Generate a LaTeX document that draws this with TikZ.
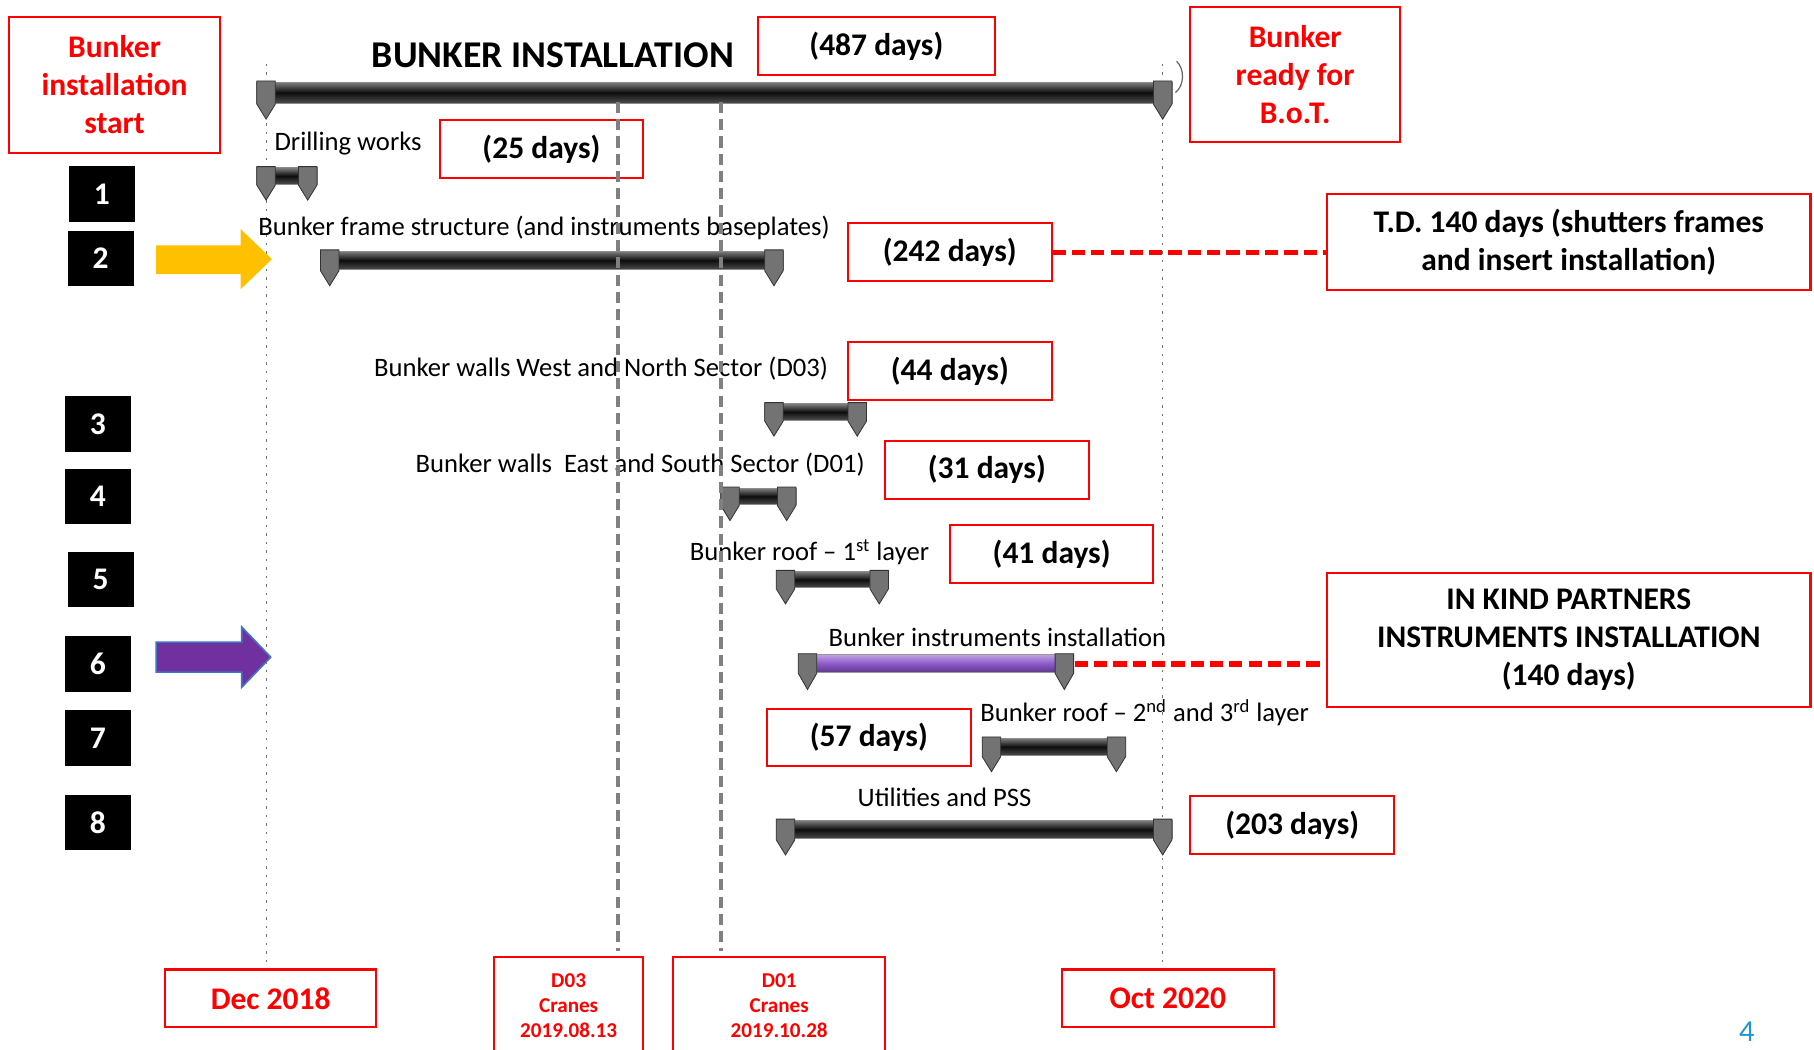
\documentclass[tikz,border=0pt]{standalone}
\usepackage{fontspec}
\setmainfont{Carlito}

\definecolor{barpurple}{RGB}{112,48,160}
\definecolor{pagenum}{RGB}{30,150,210}

\begin{document}
\begin{tikzpicture}[x=0.02cm, y=-0.02cm,
  redbox/.style={draw=red, line width=1pt, align=center, inner sep=0pt},
  daybox/.style={redbox, minimum width=3.52cm, minimum height=1cm,
    font=\fontsize{15.5}{18.7}\selectfont\bfseries},
  notebox/.style={redbox, font=\fontsize{15.5}{18.7}\selectfont\bfseries},
  cranebox/.style={redbox, text=red, minimum height=1.7cm,
    font=\fontsize{10.4}{12.3}\selectfont\bfseries},
  numbox/.style={fill=black, text=white, minimum width=1.14cm, minimum height=0.96cm,
    inner sep=0pt, font=\fontsize{15.5}{18}\selectfont\bfseries},
  task/.style={anchor=west, inner sep=0pt, font=\fontsize{13.1}{15}\selectfont},
  reddash/.style={red, line width=2.6pt, dash pattern=on 6.5pt off 3pt},
  cranedash/.style={black!50, line width=2.2pt, dash pattern=on 5.5pt off 3pt},
  guide/.style={black!55, line width=0.5pt, dash pattern=on 1.2pt off 3pt},
  tick/.style={fill=black!55, draw=black!80, line width=0.4pt}]
\useasboundingbox (0,0) rectangle (1568,907);
\clip (0,0) rectangle (1568,907);

% thin guides at start and end
\draw[guide] (230,55) -- (230,835);
\draw[guide] (1005,55) -- (1005,835);

% title and notes
\node[font=\fontsize{18.6}{22}\selectfont\bfseries] (title) at (478,48) {BUNKER INSTALLATION};
\node[notebox, text=red, minimum width=3.64cm, minimum height=2.34cm] (start) at (99,73.5)
  {Bunker\\installation\\start};
\node[notebox, text=red, minimum width=3.62cm, minimum height=2.34cm] (ready) at (1119.5,64.5)
  {Bunker\\ready for\\B.o.T.};
\node[daybox, minimum width=4.1cm] (d487) at (757.5,40) {(487 days)};
\node[daybox] (d25) at (468,129) {(25 days)};
\node[daybox] (d242) at (821,218) {(242 days)};
\node[notebox, minimum width=8.36cm, minimum height=1.66cm] (td) at (1356,209.5)
  {T.D. 140 days (shutters frames\\and insert installation)};
\node[daybox] (d44) at (821,321) {(44 days)};
\node[daybox] (d31) at (853,406) {(31 days)};
\node[daybox] (d41) at (909,479) {(41 days)};
\node[notebox, minimum width=8.36cm, minimum height=2.32cm] (ikp) at (1356,553)
  {IN KIND PARTNERS\\INSTRUMENTS INSTALLATION\\(140 days)};
\node[daybox] (d57) at (751,637.5) {(57 days)};
\node[daybox] (d203) at (1117,713) {(203 days)};

% dates along the bottom
\node[daybox, text=red, minimum width=3.64cm] (dec) at (234,863) {Dec 2018};
\node[daybox, text=red, minimum width=3.66cm] (oct) at (1009.5,863) {Oct 2020};
\node[cranebox, minimum width=2.58cm] (d03) at (491.5,869.5) {D03\\Cranes\\2019.08.13};
\node[cranebox, minimum width=3.66cm] (d01) at (673.5,869.5) {D01\\Cranes\\2019.10.28};
\node[text=pagenum, font=\fontsize{15}{17}\selectfont, inner sep=1pt] (page) at (1510,892) {4};

% row numbers
\node[numbox] (n1) at (88,167.5) {1};
\node[numbox] (n2) at (87,223.5) {2};
\node[numbox] (n3) at (84.5,366.5) {3};
\node[numbox] (n4) at (84.5,429) {4};
\node[numbox] (n5) at (87,501) {5};
\node[numbox] (n6) at (84.5,574) {6};
\node[numbox] (n7) at (84.5,638) {7};
\node[numbox] (n8) at (84.5,711) {8};

% arrows
\fill[color={rgb,255:red,255;green,192;blue,0}] (135,212) -- (208,212) -- (208,198) -- (235,224)
  -- (208,250) -- (208,237) -- (135,237) -- cycle;
\filldraw[fill=barpurple, draw={rgb,255:red,68;green,114;blue,196}, line width=0.8pt]
  (135,555) -- (209,555) -- (209,542) -- (234,568) -- (209,594) -- (209,581) -- (135,581) -- cycle;

% task labels
\node[task] (lab1) at (237,124) {Drilling works};
\node[task] (lab2) at (223,197) {Bunker frame structure (and instruments baseplates)};
\node[task] (lab3) at (323,319) {Bunker walls West and North Sector (D03)};
\node[task] (lab4) at (359,402) {Bunker walls~ East and South Sector (D01)};
\node[task] (lab5) at (596,477) {Bunker roof -- 1\textsuperscript{st} layer};
\node[task] (lab6) at (716,551) {Bunker instruments installation};
\node[task] (lab7) at (847,616) {Bunker roof -- 2\textsuperscript{nd} and 3\textsuperscript{rd} layer};
\node[task] (lab8) at (741,689) {Utilities and PSS};

% gantt bars
\foreach \l/\r/\t/\b in {230/1005/71/89, 230/266/145/159, 285/669/217/233, 669/741/349/363,
    631/680/422/436, 679/760/494/508, 857/965/638/653, 679/1005/709/725} {
  \shade[draw=black!45, line width=0.4pt, top color=black!50, bottom color=black!70, middle color=black!95]
    (\l-8,\t) rectangle (\r+8,\b);
  \foreach \m in {\l,\r}
    \filldraw[tick] (\m-8,\t-1) -- (\m+8,\t-1) -- (\m+8,\b+1) -- (\m,\b+14) -- (\m-8,\b+1) -- cycle;
}
\shade[draw=black!40, line width=0.4pt, top color={rgb,255:red,190;green,160;blue,225},
  bottom color={rgb,255:red,95;green,55;blue,140}, middle color={rgb,255:red,140;green,90;blue,200}]
  (690,566) rectangle (928,581);
\foreach \m in {698,920}
  \filldraw[tick] (\m-8,565) -- (\m+8,565) -- (\m+8,582) -- (\m,596) -- (\m-8,582) -- cycle;
\draw[black!60, line width=0.6pt] (1017,53) .. controls (1024,59) and (1024,74) .. (1016,80);

% links to the notes
\coordinate (b6end) at (929,574);
\draw[reddash] (d242.east) -- (d242.east -| td.west);
\draw[reddash] (b6end) -- (b6end -| ikp.west);

% crane dates
\draw[cranedash] (534,88) -- (534,822);
\draw[cranedash] (623,88) -- (623,822);
\end{tikzpicture}
\end{document}
